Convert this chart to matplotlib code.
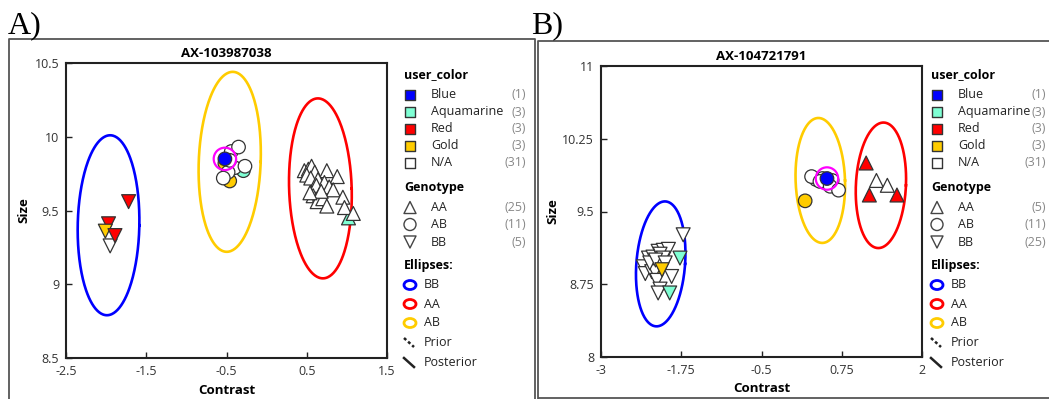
import numpy as np
import matplotlib
matplotlib.use('Agg')
import matplotlib.pyplot as plt
from matplotlib.patches import Ellipse

plt.rcParams['font.family'] = ['Open Sans', 'DejaVu Sans']
plt.rcParams['axes.unicode_minus'] = False

# ---- data ----
color_names  = ["Blue", "Aquamarine", "Red", "Gold", "N/A"]
color_values = {"Blue": "#0000FF", "Aquamarine": "#7FFFD4", "Red": "#FF0000",
                "Gold": "#FFCC00", "N/A": "#FFFFFF"}
geno_names   = ["AA", "AB", "BB"]
ell_names    = ["BB", "AA", "AB"]
ell_colors   = {"BB": "#0000FF", "AA": "#FF0000", "AB": "#FFCC00"}

# panel A : AX-103987038
a_title = "AX-103987038"
a_color_counts = [1, 3, 3, 3, 31]
a_geno_counts  = [25, 11, 5]
a_xticks = [-2.5, -1.5, -0.5, 0.5, 1.5]
a_xticklabels = ["-2.5", "-1.5", "-0.5", "0.5", "1.5"]
a_yticks = [8.5, 9, 9.5, 10, 10.5]
a_yticklabels = ["8.5", "9", "9.5", "10", "10.5"]

a_bb_x = [-1.95, -1.97, -2.01, -1.89, -1.72]
a_bb_y = [9.26, 9.41, 9.36, 9.33, 9.56]
a_bb_c = ["N/A", "Red", "Gold", "Red", "Red"]

a_ab_x = [-0.46, -0.29, -0.52, -0.44, -0.40, -0.48, -0.46, -0.27, -0.35, -0.54, -0.52]
a_ab_y = [9.70, 9.77, 9.82, 9.90, 9.79, 9.76, 9.84, 9.80, 9.93, 9.72, 9.85]
a_ab_c = ["Gold", "Aquamarine", "Gold", "N/A", "N/A", "N/A", "N/A", "N/A", "N/A", "N/A", "Blue"]

a_aa_x = [0.62, 1.02, 0.47, 0.52, 0.56, 0.60, 0.75, 0.88, 0.50, 0.55, 0.64, 0.72,
          0.78, 0.62, 0.83, 0.58, 0.66, 0.63, 0.70, 0.75, 0.95, 0.97, 1.08, 0.68, 0.54]
a_aa_y = [9.70, 9.45, 9.77, 9.78, 9.80, 9.76, 9.77, 9.73, 9.74, 9.72, 9.71, 9.69,
          9.66, 9.67, 9.64, 9.60, 9.61, 9.56, 9.58, 9.53, 9.59, 9.52, 9.48, 9.63, 9.62]
a_aa_c = ["Aquamarine", "Aquamarine"] + ["N/A"] * 23

# ellipses: centre x, centre y, half width, half height, shear of the top
a_ell_cx = [-1.97, 0.67, -0.46]
a_ell_cy = [9.40, 9.65, 9.83]
a_ell_rx = [0.384, 0.39, 0.386]
a_ell_ry = [0.61, 0.61, 0.61]
a_ell_dx = [0.02, -0.031, 0.037]

# panel B : AX-104721791
b_title = "AX-104721791"
b_color_counts = [1, 3, 3, 3, 31]
b_geno_counts  = [5, 11, 25]
b_xticks = [-3, -1.75, -0.5, 0.75, 2]
b_xticklabels = ["-3", "-1.75", "-0.5", "0.75", "2"]
b_yticks = [8, 8.75, 9.5, 10.25, 11]
b_yticklabels = ["8", "8.75", "9.5", "10.25", "11"]

b_bb_x = [-2.10, -2.02, -2.34, -2.26, -2.19, -2.11, -2.03, -1.95, -2.08, -2.03,
          -2.31, -2.21, -2.16, -2.08, -2.24, -2.15, -2.00, -2.13, -2.08, -2.11,
          -1.90, -2.05, -1.72, -1.77, -1.93]
b_bb_y = [8.85, 8.95, 8.93, 9.02, 9.03, 9.09, 9.10, 9.11, 9.06, 9.02,
          8.86, 8.88, 8.88, 8.95, 8.97, 9.00, 8.97, 8.79, 8.70, 8.66,
          8.83, 8.90, 9.26, 9.02, 8.66]
b_bb_c = ["Gold", "Aquamarine"] + ["N/A"] * 19 + ["Gold", "N/A", "Aquamarine", "Aquamarine"]

b_ab_x = [0.48, 0.35, 0.45, 0.52, 0.60, 0.28, 0.41, 0.57, 0.70, 0.18, 0.52]
b_ab_y = [9.83, 9.83, 9.84, 9.80, 9.82, 9.86, 9.81, 9.76, 9.72, 9.61, 9.84]
b_ab_c = ["N/A", "N/A", "N/A", "N/A", "N/A", "N/A", "N/A", "N/A", "N/A", "Gold", "Blue"]

b_aa_x = [1.29, 1.46, 1.13, 1.18, 1.61]
b_aa_y = [9.82, 9.77, 10.00, 9.67, 9.67]
b_aa_c = ["N/A", "N/A", "Red", "Red", "Red"]

b_ell_cx = [-2.07, 1.36, 0.416]
b_ell_cy = [8.96, 9.77, 9.82]
b_ell_rx = [0.38, 0.39, 0.385]
b_ell_ry = [0.644, 0.647, 0.644]
b_ell_dx = [0.065, 0.04, -0.03]

W, H = 1049, 399
fig = plt.figure(figsize=(W / 100, H / 100), dpi=100)

# pixel overlay for frames, panel letters and legends
ov = fig.add_axes([0, 0, 1, 1])
ov.set_xlim(0, W)
ov.set_ylim(H, 0)
ov.axis("off")

frame_kw = dict(color="#555555", lw=1.3, solid_capstyle="butt")
ov.plot([9, 9, 535, 535], [H, 39, 39, H], **frame_kw)
ov.plot([538, 538, W], [H, 41, 41], **frame_kw)
ov.plot([538, W], [397.5, 397.5], **frame_kw)
for lx, lab in [(8, "A)"), (531, "B)")]:
    ov.text(lx, 33, lab, family="Liberation Serif", fontsize=23, va="baseline", ha="left")


def px_axes(l, t, r, b):
    return fig.add_axes([l / W, 1 - b / H, (r - l) / W, (b - t) / H])


def draw_ellipse(ax, cx, cy, rx, ry, dx, col):
    t = np.linspace(0, 2 * np.pi, 300)
    ax.plot(cx + rx * np.cos(t) + dx * np.sin(t), cy + ry * np.sin(t),
            color=col, lw=1.9, zorder=2)


def draw_group(ax, xs, ys, cs, marker, size):
    fc = [color_values[c] for c in cs]
    ax.scatter(xs, ys, s=size, marker=marker, c=fc, edgecolors="#333333",
               linewidths=0.9, zorder=3)
    for x, y, c in zip(xs, ys, cs):
        if c == "Blue":
            ax.scatter([x], [y], s=260, marker="o", facecolors="none",
                       edgecolors="#FF00FF", linewidths=1.6, zorder=4)


def panel(box, title, xlim, ylim, xt, xtl, yt, ytl, ells, groups, ylab_x):
    ax = px_axes(*box)
    for name, cx, cy, rx, ry, dx in zip(ell_names, *ells):
        draw_ellipse(ax, cx, cy, rx, ry, dx, ell_colors[name])
    for xs, ys, cs, mk, sz in groups:
        draw_group(ax, xs, ys, cs, mk, sz)
    ax.set_xlim(*xlim)
    ax.set_ylim(*ylim)
    ax.set_xticks(xt)
    ax.set_xticklabels(xtl)
    ax.set_yticks(yt)
    ax.set_yticklabels(ytl)
    ax.tick_params(direction="in", length=4, width=1, colors="#222222",
                   labelsize=9, labelcolor="#333333", pad=5)
    for s in ax.spines.values():
        s.set_linewidth(1.5)
        s.set_color("#222222")
    ax.set_title(title, fontsize=9.5, fontweight="bold", pad=4)
    ax.set_xlabel("Contrast", fontsize=9.5, fontweight="bold", va="center")
    ax.xaxis.set_label_coords(0.5, -32 / (box[3] - box[1]))
    ax.set_ylabel("Size", fontsize=9.5, fontweight="bold", va="center")
    ax.yaxis.set_label_coords(ylab_x, 0.5)
    return ax


panel((66, 63, 387, 358), a_title, (-2.5, 1.5), (8.5, 10.5),
      a_xticks, a_xticklabels, a_yticks, a_yticklabels,
      (a_ell_cx, a_ell_cy, a_ell_rx, a_ell_ry, a_ell_dx),
      [(a_bb_x, a_bb_y, a_bb_c, "v", 100),
       (a_ab_x, a_ab_y, a_ab_c, "o", 95),
       (a_aa_x, a_aa_y, a_aa_c, "^", 100)],
      -42 / 321)

panel((601, 66, 922, 357), b_title, (-3, 2), (8, 11),
      b_xticks, b_xticklabels, b_yticks, b_yticklabels,
      (b_ell_cx, b_ell_cy, b_ell_rx, b_ell_ry, b_ell_dx),
      [(b_bb_x, b_bb_y, b_bb_c, "v", 100),
       (b_ab_x, b_ab_y, b_ab_c, "o", 95),
       (b_aa_x, b_aa_y, b_aa_c, "^", 100)],
      -48 / 321)


def legend(x0, cnt_r, color_counts, geno_counts):
    head = dict(fontsize=9, fontweight="bold", va="center", ha="left")
    lab = dict(fontsize=9, va="center", ha="left", color="#222222")
    cnt = dict(fontsize=9, va="center", ha="right", color="#888888")
    ov.text(x0, 75, "user_color", **head)
    rows = [95, 112, 128.5, 145.5, 162.5]
    for name, n, y in zip(color_names, color_counts, rows):
        ov.scatter([x0 + 6], [y], s=60, marker="s", c=color_values[name],
                   edgecolors="#333333", linewidths=1)
        ov.text(x0 + 27, y, name, **lab)
        ov.text(cnt_r, y, f"({n})", **cnt)
    ov.text(x0, 188, "Genotype", **head)
    for name, n, y, mk in zip(geno_names, geno_counts, [207.5, 224.5, 242], ["^", "o", "v"]):
        ov.scatter([x0 + 6], [y], s=75, marker=mk, facecolors="none",
                   edgecolors="#444444", linewidths=1)
        ov.text(x0 + 27, y, name, **lab)
        ov.text(cnt_r, y, f"({n})", **cnt)
    ov.text(x0, 266, "Ellipses:", **head)
    for name, y in zip(ell_names, [285, 304, 323]):
        ov.add_patch(Ellipse((x0 + 6, y), 12, 9, fill=False,
                             edgecolor=ell_colors[name], lw=2))
        ov.text(x0 + 20, y, name, **lab)
    ov.plot([x0, x0 + 10], [338, 347], color="#222222", lw=1.8, ls=(0, (1.2, 1)))
    ov.text(x0 + 20, 343, "Prior", **lab)
    ov.plot([x0, x0 + 10], [358, 367], color="#222222", lw=1.8)
    ov.text(x0 + 20, 363, "Posterior", **lab)


legend(404, 526, a_color_counts, a_geno_counts)
legend(931, 1046, b_color_counts, b_geno_counts)

fig.savefig("out.png", dpi=100)
